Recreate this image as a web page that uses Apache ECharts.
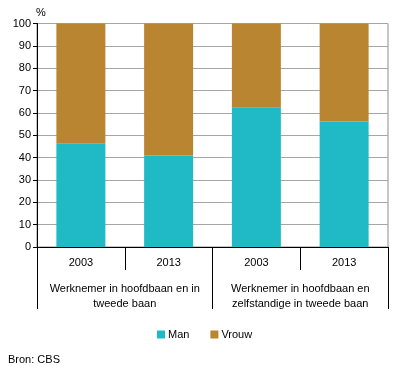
<!DOCTYPE html>
<html><head><meta charset="utf-8">
<script src="https://cdn.jsdelivr.net/npm/echarts@6/dist/echarts.min.js"></script>
<style>html,body{margin:0;padding:0;background:#fff}#c{width:396px;height:366px}</style>
</head><body><div id="c"></div>
<script>
const years = ['2003', '2013', '2003', '2013'];
const groups = ['Werknemer in hoofdbaan en in\ntweede baan', 'Werknemer in hoofdbaan en\nzelfstandige in tweede baan'];
const man = [46.4, 40.9, 62.3, 56.1];
const vrouw = [53.6, 59.1, 37.7, 43.9];
const yTicks = [0, 10, 20, 30, 40, 50, 60, 70, 80, 90, 100];

const F = 'Liberation Sans, Arial, sans-serif';
const chart = echarts.init(document.getElementById('c'));
chart.setOption({
  animation: false,
  textStyle: { fontFamily: F },
  title: { text: 'Bron: CBS', left: 3, top: 349, textStyle: { fontSize: 11, fontWeight: 'normal', color: '#000', fontFamily: F } },
  legend: {
    left: 152, top: 324, itemWidth: 8, itemHeight: 8, itemGap: 21, icon: 'rect',
    textStyle: { fontSize: 11, color: '#000', fontFamily: F, padding: [0, 0, 0, -2] },
    data: ['Man', 'Vrouw']
  },
  grid: { left: 37, right: 8, top: 23.5, bottom: 119, show: true, borderColor: '#8c8c8c', borderWidth: 1 },
  xAxis: [
    {
      type: 'category', data: years, position: 'bottom',
      axisLine: { lineStyle: { color: '#000' } },
      axisTick: { show: true, length: 23, interval: 0, lineStyle: { color: '#000' } },
      axisLabel: { interval: 0, margin: 10, fontSize: 11, color: '#000', fontFamily: F }
    },
    {
      type: 'category', data: groups, position: 'bottom',
      axisLine: { show: false },
      axisTick: { show: true, length: 62, interval: 0, lineStyle: { color: '#000' } },
      axisLabel: { interval: 0, hideOverlap: false, margin: 34, fontSize: 11, color: '#000', lineHeight: 15, fontFamily: F }
    }
  ],
  yAxis: {
    type: 'value', min: 0, max: 100, interval: 10,
    name: '%', nameLocation: 'end', nameGap: 5,
    nameTextStyle: { fontSize: 11, color: '#000', fontFamily: F, padding: [0, 0, 0, 8] },
    axisLine: { show: true, lineStyle: { color: '#000' } },
    axisTick: { show: true, length: 4, lineStyle: { color: '#000' } },
    axisLabel: { fontSize: 11, color: '#000', margin: 6, fontFamily: F },
    splitLine: { lineStyle: { color: '#a6a6a6' } }
  },
  series: [
    { name: 'Man', type: 'bar', stack: 's', data: man, barWidth: 49, itemStyle: { color: '#1fbac6' } },
    { name: 'Vrouw', type: 'bar', stack: 's', data: vrouw, barWidth: 49, itemStyle: { color: '#b98530' } }
  ]
});
</script></body></html>
